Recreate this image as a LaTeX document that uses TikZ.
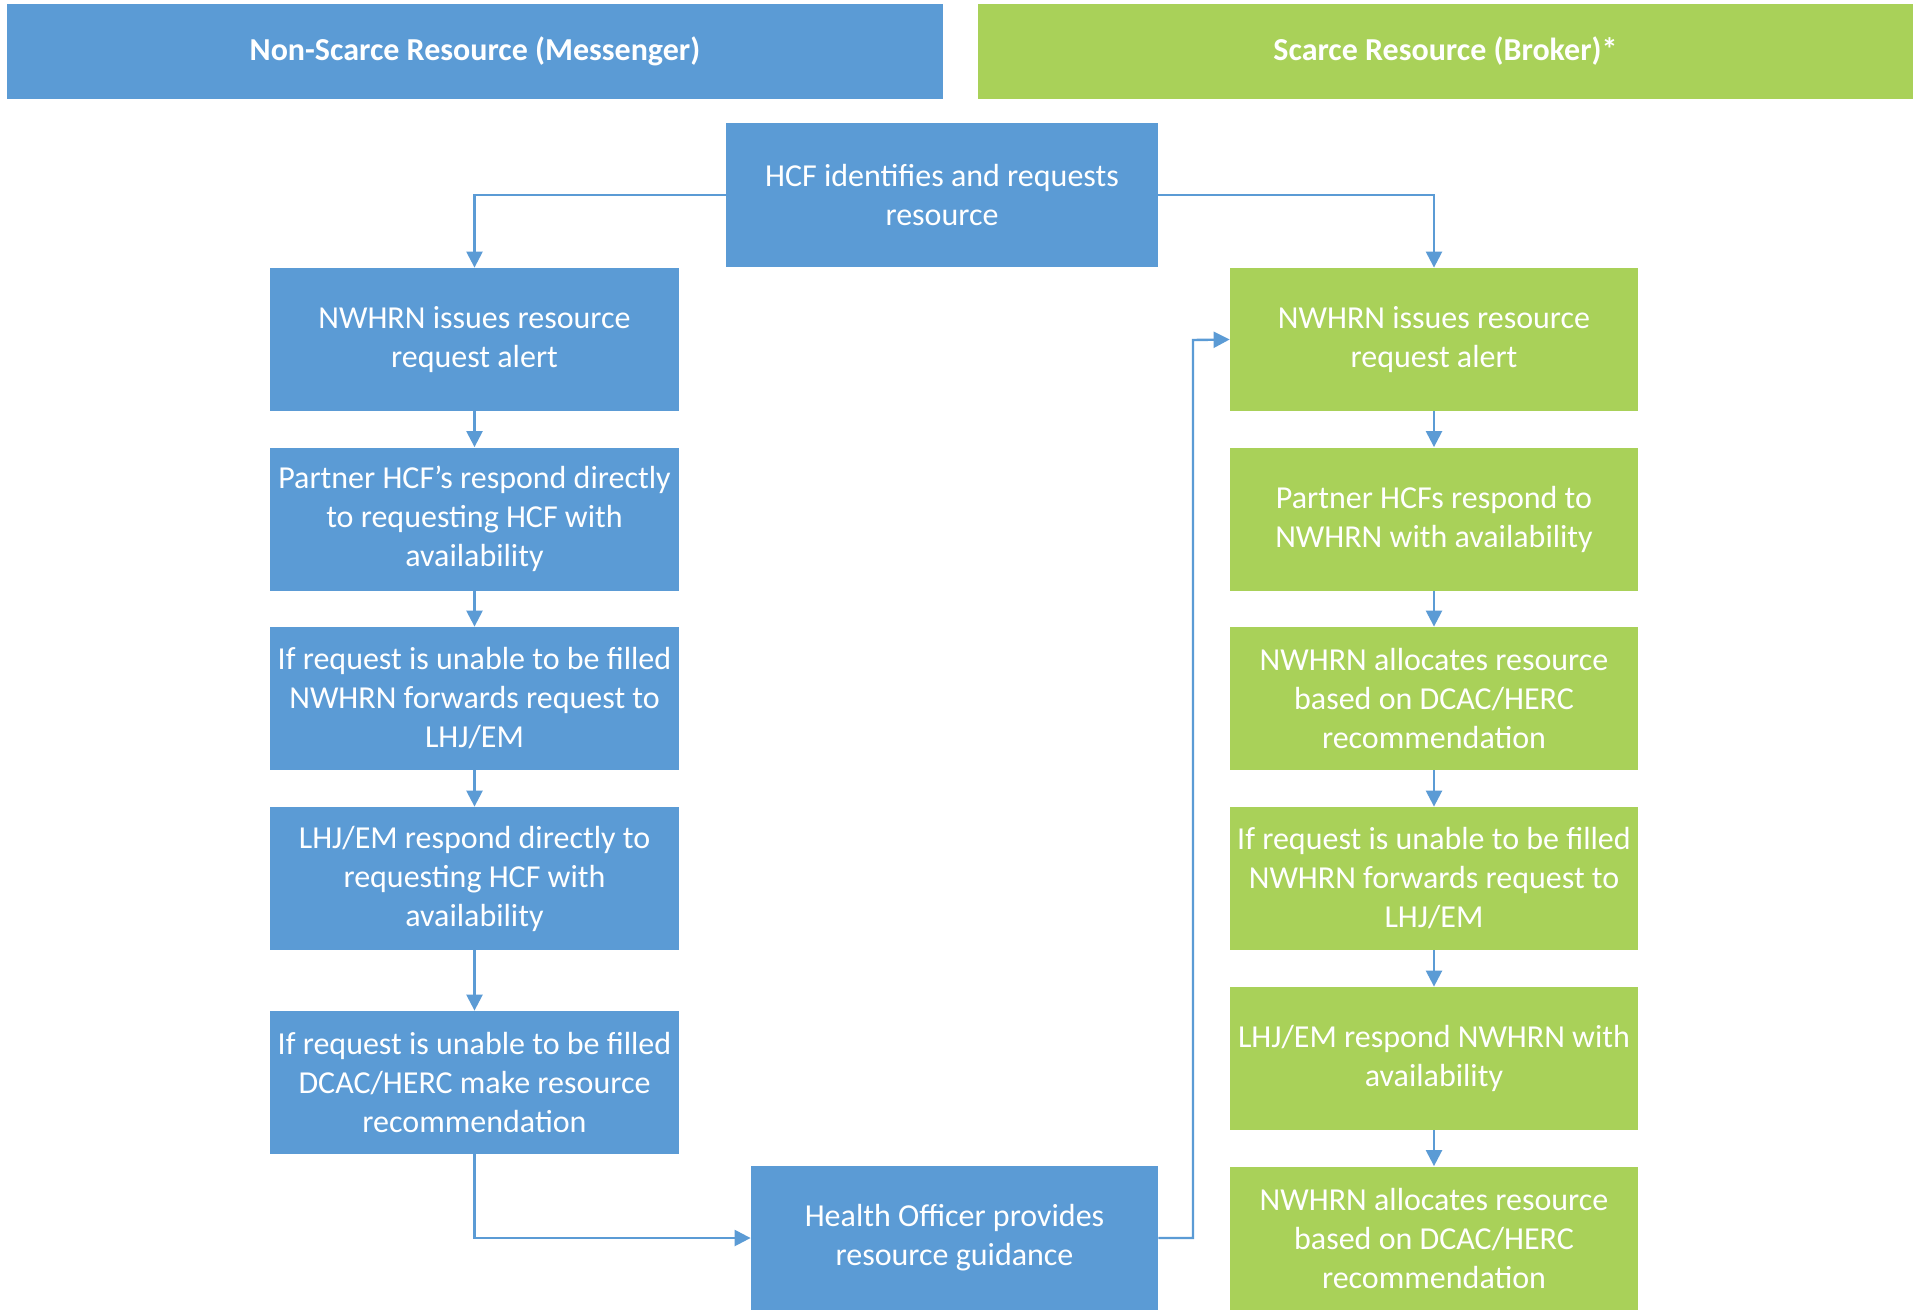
\documentclass[tikz,border=0pt]{standalone}
\usepackage{fontspec}
\setmainfont{Carlito}
\usetikzlibrary{arrows.meta}
\definecolor{bluebox}{HTML}{5B9BD5}
\definecolor{greenbox}{HTML}{A9D159}
\definecolor{lineblue}{HTML}{5B9BD5}
\begin{document}
\begin{tikzpicture}[x=0.5pt,y=-0.5pt,
  box/.style={draw=none,fill=#1,text=white,align=center,inner sep=0pt,
    font=\fontsize{16}{19.5}\selectfont},
  hdr/.style={fill=#1,text=white,align=center,inner sep=0pt,
    font=\bfseries\fontsize{16}{19.5}\selectfont},
  conn/.style={draw=lineblue,line width=1.2pt,-{Triangle[length=8pt,width=8pt]}}
]
\useasboundingbox (0,0) rectangle (1917,1311);
\fill[white] (0,0) rectangle (1917,1311);
% headers
\node[hdr=bluebox,minimum width=468pt,minimum height=47.5pt] (h1) at (475,51.5) {Non-Scarce Resource (Messenger)};
\node[hdr=greenbox,minimum width=467.5pt,minimum height=47.5pt] (h2) at (1445.5,51.5) {Scarce Resource (Broker)*};
% top
\node[box=bluebox,minimum width=216pt,minimum height=72pt] (hcf) at (942,195) {HCF identifies and requests\\resource};
% left column
\tikzset{lb/.style={box=bluebox,minimum width=204.5pt,minimum height=71.5pt}}
\node[lb] (l1) at (474.5,339.5) {NWHRN issues resource\\request alert};
\node[lb] (l2) at (474.5,519) {Partner HCF’s respond directly\\to requesting HCF with\\availability};
\node[lb] (l3) at (474.5,698.5) {If request is unable to be filled\\NWHRN forwards request to\\LHJ/EM};
\node[lb] (l4) at (474.5,878.5) {LHJ/EM respond directly to\\requesting HCF with\\availability};
\node[lb] (l5) at (474.5,1082.5) {If request is unable to be filled\\DCAC/HERC make resource\\recommendation};
% health officer
\node[box=bluebox,minimum width=203.5pt,minimum height=72pt] (ho) at (954.5,1238) {Health Officer provides\\resource guidance};
% right column
\tikzset{rb/.style={box=greenbox,minimum width=204pt,minimum height=71.5pt}}
\node[rb] (r1) at (1434,339.5) {NWHRN issues resource\\request alert};
\node[rb] (r2) at (1434,519) {Partner HCFs respond to\\NWHRN with availability};
\node[rb] (r3) at (1434,698.5) {NWHRN allocates resource\\based on DCAC/HERC\\recommendation};
\node[rb] (r4) at (1434,878.5) {If request is unable to be filled\\NWHRN forwards request to\\LHJ/EM};
\node[rb] (r5) at (1434,1058.5) {LHJ/EM respond NWHRN with\\availability};
\node[rb] (r6) at (1434,1238) {NWHRN allocates resource\\based on DCAC/HERC\\recommendation};
% connectors
\draw[conn] (hcf.west) -| (l1.north);
\draw[conn] (hcf.east) -| (r1.north);
\draw[conn] (l1) -- (l2);
\draw[conn] (l2) -- (l3);
\draw[conn] (l3) -- (l4);
\draw[conn] (l4) -- (l5);
\draw[conn] (l5.south) |- (ho.west);
\coordinate (bend) at (1193,340);
\draw[conn] (ho.east) -| (bend) -- (r1.west);
\draw[conn] (r1) -- (r2);
\draw[conn] (r2) -- (r3);
\draw[conn] (r3) -- (r4);
\draw[conn] (r4) -- (r5);
\draw[conn] (r5) -- (r6);
\end{tikzpicture}
\end{document}
